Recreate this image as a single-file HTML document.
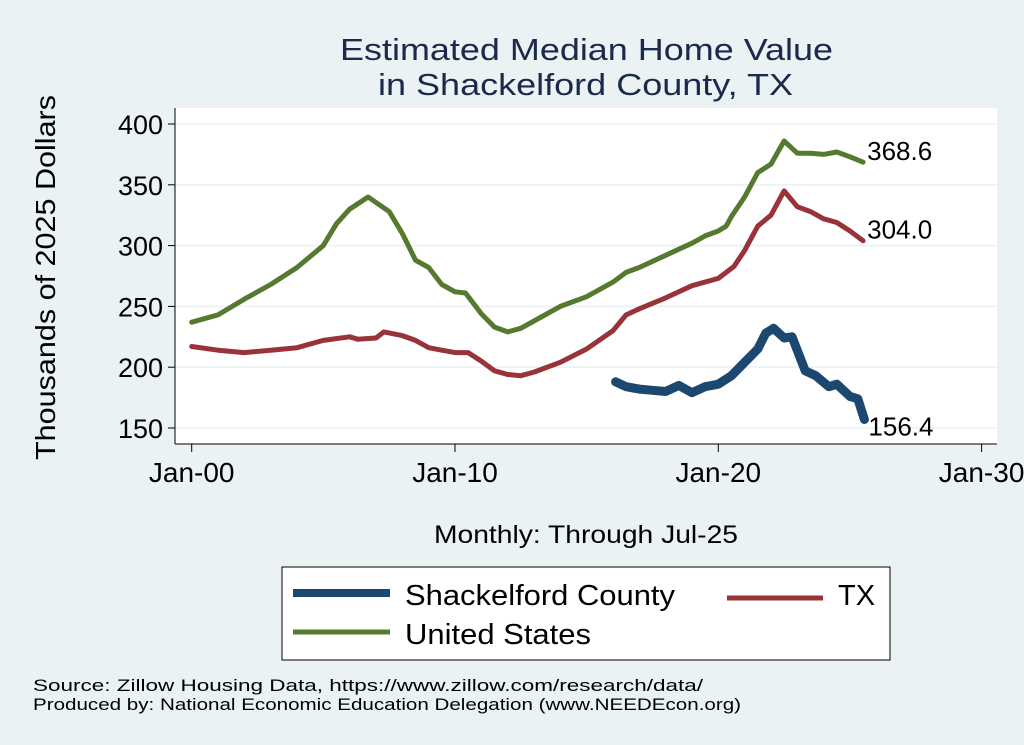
<!DOCTYPE html>
<html><head><meta charset="utf-8"><style>
body{margin:0;background:#eaf2f3;}
svg{display:block;font-family:"Liberation Sans",sans-serif;}
</style></head><body>
<svg width="1024" height="745" viewBox="0 0 1024 745">
<rect x="0" y="0" width="1024" height="745" fill="#eaf2f3"/>
<rect x="175" y="108" width="822" height="336" fill="#ffffff"/>
<g id="grid"></g>
<line x1="175" y1="108" x2="175" y2="444" stroke="#000" stroke-width="1"/>
<line x1="175" y1="444" x2="997" y2="444" stroke="#000" stroke-width="1"/>
<g id="yticks"></g>
<g id="xticks"></g>
<g id="series"></g>
<text x="340" y="60" textLength="493" lengthAdjust="spacingAndGlyphs" font-size="31" fill="#1b2a4b">Estimated Median Home Value</text>
<text x="378" y="95" textLength="415" lengthAdjust="spacingAndGlyphs" font-size="31" fill="#1b2a4b">in Shackelford County, TX</text>
<text transform="translate(55,278) rotate(-90)" x="-182" y="0" textLength="365" lengthAdjust="spacingAndGlyphs" font-size="28" fill="#000">Thousands of 2025 Dollars</text>
<text x="434" y="543" textLength="304" lengthAdjust="spacingAndGlyphs" font-size="25" fill="#000">Monthly: Through Jul-25</text>
<g>
<rect x="282" y="567" width="608" height="93" fill="#fff" stroke="#000" stroke-width="1"/>
<line x1="293" y1="593" x2="390" y2="593" stroke="#1c4870" stroke-width="8"/>
<text x="405" y="605" textLength="270" lengthAdjust="spacingAndGlyphs" font-size="29">Shackelford County</text>
<line x1="727" y1="598" x2="823" y2="598" stroke="#983338" stroke-width="5"/>
<text x="838" y="605" font-size="29">TX</text>
<line x1="293" y1="632" x2="390" y2="632" stroke="#557a2f" stroke-width="5"/>
<text x="405" y="644" textLength="186" lengthAdjust="spacingAndGlyphs" font-size="29">United States</text>
</g>
<text x="33" y="691" textLength="670" lengthAdjust="spacingAndGlyphs" font-size="17">Source: Zillow Housing Data, https://www.zillow.com/research/data/</text>
<text x="33" y="710" textLength="708" lengthAdjust="spacingAndGlyphs" font-size="17">Produced by: National Economic Education Delegation (www.NEEDEcon.org)</text>
</svg>
<script>
const yTicks=[150,200,250,300,350,400];
const xTickYears=[2000,2010,2020,2030];
const xTickLabels=["Jan-00","Jan-10","Jan-20","Jan-30"];
const usYears=[2000,2001,2002,2003,2004,2005,2005.5,2006,2006.7,2007.5,2008,2008.5,2009,2009.5,2010,2010.4,2011,2011.5,2012,2012.5,2013,2014,2015,2016,2016.5,2017,2018,2019,2019.5,2020,2020.3,2020.5,2021,2021.5,2022,2022.5,2022.8,2023,2023.5,2024,2024.5,2025,2025.5];
const usValues=[237,243,256,268,282,300,318,330,340,328,310,288,282,268,262,261,244,233,229,232,238,250,258,270,278,282,292,302,308,312,316,324,340,360,367,386,380,376,376,375,377,373,368.6];
const txYears=[2000,2001,2002,2003,2004,2005,2006,2006.3,2007,2007.3,2008,2008.5,2009,2009.5,2010,2010.5,2011,2011.5,2012,2012.5,2013,2014,2015,2016,2016.5,2017,2018,2019,2020,2020.3,2020.6,2021,2021.5,2022,2022.5,2023,2023.5,2024,2024.5,2025,2025.5];
const txValues=[217,214,212,214,216,222,225,223,224,229,226,222,216,214,212,212,205,197,194,193,196,204,215,230,243,248,257,267,273,278,283,296,316,325,345,332,328,322,319,312,304];
const scYears=[2016.1,2016.5,2017,2017.5,2018,2018.5,2019,2019.5,2020,2020.5,2021,2021.5,2021.8,2022.1,2022.5,2022.8,2023.3,2023.7,2024.2,2024.5,2025,2025.3,2025.55];
const scValues=[188,184,182,181,180,185,179,184,186,193,204,215,228,232,224,225,197,193,184,186,176,174,157];
const lastLabels=["368.6","304.0","156.4"];
const NS="http://www.w3.org/2000/svg";
function xs(yr){return 191.7+(yr-2000)*26.33;}
function ys(v){return 428-(v-150)*1.216;}
function mk(tag,attrs,parent){const e=document.createElementNS(NS,tag);for(const k in attrs)e.setAttribute(k,attrs[k]);parent.appendChild(e);return e;}
const grid=document.getElementById('grid'),yt=document.getElementById('yticks'),xt=document.getElementById('xticks'),ser=document.getElementById('series');
yTicks.forEach(v=>{
 const g=mk('line',{x1:176,x2:997,y1:ys(v),y2:ys(v),stroke:'#eaf2f3','stroke-width':1.5},grid);
 
 
 const t=mk('line',{x1:168,x2:175,y1:ys(v),y2:ys(v),stroke:'#000'},yt);
 
 
 const l=mk('text',{x:163,y:ys(v)+10,'text-anchor':'end','font-size':27},yt);
 l.textContent=v;
 
 
});
xTickYears.forEach((yr,i)=>{
 const t=mk('line',{x1:xs(yr),x2:xs(yr),y1:444,y2:452,stroke:'#000'},xt);
 
 
 const l=mk('text',{x:xs(yr),y:482,'text-anchor':'middle','font-size':28},xt);
 l.textContent=xTickLabels[i];
 
 
});
function line(yrs,vals,color,w,name){
 const d=yrs.map((y,i)=>(i?'L':'M')+xs(y).toFixed(1)+','+ys(vals[i]).toFixed(1)).join('');
 const p=mk('path',{d:d,fill:'none',stroke:color,'stroke-width':w,'stroke-linejoin':'round','stroke-linecap':'round'},ser);
 
 
}
line(usYears,usValues,'#557a2f',5,'us-line');
line(txYears,txValues,'#983338',5,'tx-line');
line(scYears,scValues,'#1c4870',9,'shackelford-line');
const ends=[[usYears,usValues,0],[txYears,txValues,0],[scYears,scValues,18]];
ends.forEach((e,i)=>{
 const n=e[0].length-1;
 const l=mk('text',{x:xs(e[0][n])+4,y:ys(e[1][n])-2+e[2],'font-size':26},ser);
 l.textContent=lastLabels[i];
 
 
});
</script>
</body></html>
